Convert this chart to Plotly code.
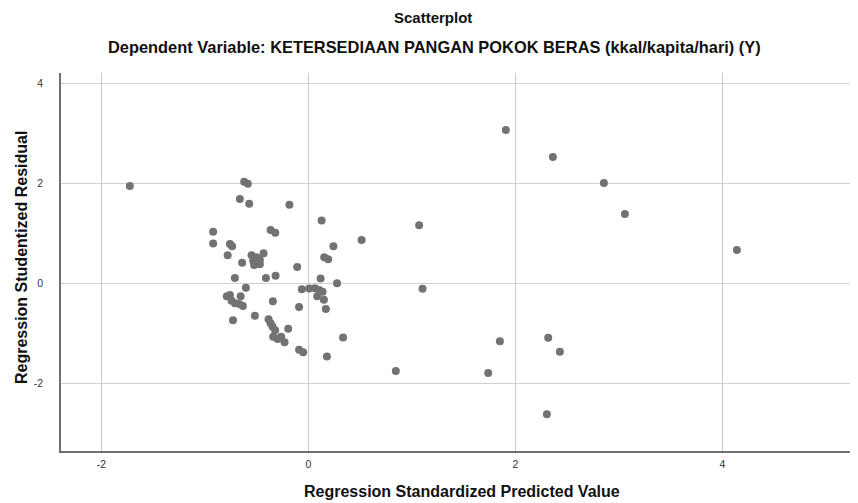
import plotly.graph_objects as go

# Regression Standardized Predicted Value (x) and Studentized Residual (y)
pred = [
    -1.725, 1.908, 2.362, 2.855, 3.058, 4.14, 1.07, 0.514, 1.103, 1.85, 2.317, 2.43, 0.845, 1.737, 2.304,
    -0.62, -0.585, -0.662, -0.572, -0.183, 0.128, -0.92, -0.92, -0.758, -0.737, -0.365, -0.32, 0.242,
    -0.78, -0.549, -0.50, -0.433, -0.533, -0.469, -0.524, -0.469, -0.64, 0.153, 0.191, -0.108, -0.71,
    -0.41, -0.317, 0.118, 0.277,
    -0.604, -0.063, 0.008, 0.063, 0.104, 0.137, 0.085, 0.15, 0.169, -0.09, -0.343, -0.788, -0.758,
    -0.655, -0.742, -0.71, -0.668, -0.633, -0.517, -0.728, -0.385, -0.365, -0.346, -0.321, -0.34,
    -0.298, -0.263, -0.23, -0.195, -0.09, -0.05, 0.179, 0.335,
]
resid = [
    1.946, 3.067, 2.527, 2.006, 1.385, 0.665, 1.159, 0.865, -0.11, -1.163, -1.091, -1.371, -1.758, -1.798, -2.625,
    2.03, 1.99, 1.686, 1.592, 1.572, 1.255, 1.03, 0.795, 0.785, 0.74, 1.065, 1.01, 0.74,
    0.558, 0.56, 0.518, 0.598, 0.45, 0.464, 0.364, 0.378, 0.41, 0.518, 0.478, 0.324, 0.105,
    0.105, 0.15, 0.095, 0.0,
    -0.09, -0.12, -0.108, -0.102, -0.136, -0.17, -0.26, -0.33, -0.517, -0.474, -0.36, -0.26, -0.236,
    -0.262, -0.35, -0.40, -0.416, -0.456, -0.65, -0.74, -0.72, -0.80, -0.87, -0.94, -1.07,
    -1.117, -1.07, -1.18, -0.91, -1.33, -1.38, -1.467, -1.087,
]
tick_vals = [-2, 0, 2, 4]

title_main = "Scatterplot"
title_sub = "Dependent Variable: KETERSEDIAAN PANGAN POKOK BERAS (kkal/kapita/hari) (Y)"
x_title = "Regression Standardized Predicted Value"
y_title = "Regression Studentized Residual"

FONT = "Liberation Sans, Arial, sans-serif"

# The page body has an 8px margin, so the figure is drawn 8px in from the top-left.
OFF = 8
W, H = 858 - OFF, 503 - OFF
L, R, T, B = 61 - OFF, 0, 73 - OFF, H - (451 - OFF)
plot_w = W - L - R
plot_h = H - T - B


def px(page_x):
    return (page_x - OFF - L) / plot_w


def py(page_y):
    return (H - B - (page_y - OFF)) / plot_h


fig = go.Figure()
fig.add_trace(go.Scatter(
    x=pred, y=resid, mode="markers",
    marker=dict(size=8, color="#727272", line=dict(width=0)),
    hoverinfo="x+y", showlegend=False,
))

title_font = dict(size=16, family=FONT, color="#111111")

fig.update_layout(
    width=W, height=H,
    margin=dict(l=L, r=R, t=T, b=B, pad=0),
    paper_bgcolor="white", plot_bgcolor="white",
    font=dict(family=FONT, color="#222222"),
    xaxis=dict(
        range=[-2.39, 5.31], tickvals=tick_vals, ticktext=[str(v) for v in tick_vals],
        showgrid=True, gridcolor="#c8c8c8", gridwidth=1,
        zeroline=False, showline=True, linecolor="#707070", linewidth=1.5,
        ticks="", tickfont=dict(size=10.5, color="#333333"), ticklabelstandoff=3,
    ),
    yaxis=dict(
        range=[-3.36, 4.21], tickvals=tick_vals, ticktext=[str(v) for v in tick_vals],
        showgrid=True, gridcolor="#d0d0d0", gridwidth=1,
        zeroline=False, showline=True, linecolor="#707070", linewidth=1.5,
        ticks="", tickfont=dict(size=10.5, color="#333333"), ticklabelstandoff=14,
    ),
    annotations=[
        dict(text="<b>" + title_main + "</b>", xref="paper", yref="paper",
             x=px(433), y=py(17), xanchor="center", yanchor="middle",
             showarrow=False, font=dict(size=15, family=FONT, color="#111111")),
        dict(text="<b>" + title_sub + "</b>", xref="paper", yref="paper",
             x=px(434), y=py(47), xanchor="center", yanchor="middle",
             showarrow=False, font=dict(size=16.4, family=FONT, color="#111111")),
        dict(text="<b>" + x_title + "</b>", xref="paper", yref="paper",
             x=px(462), y=py(492), xanchor="center", yanchor="middle",
             showarrow=False, font=title_font),
        dict(text="<b>" + y_title + "</b>", xref="paper", yref="paper",
             x=px(21), y=py(258), xanchor="center", yanchor="middle",
             showarrow=False, textangle=-90, font=title_font),
    ],
)

fig.write_html("out.html")
